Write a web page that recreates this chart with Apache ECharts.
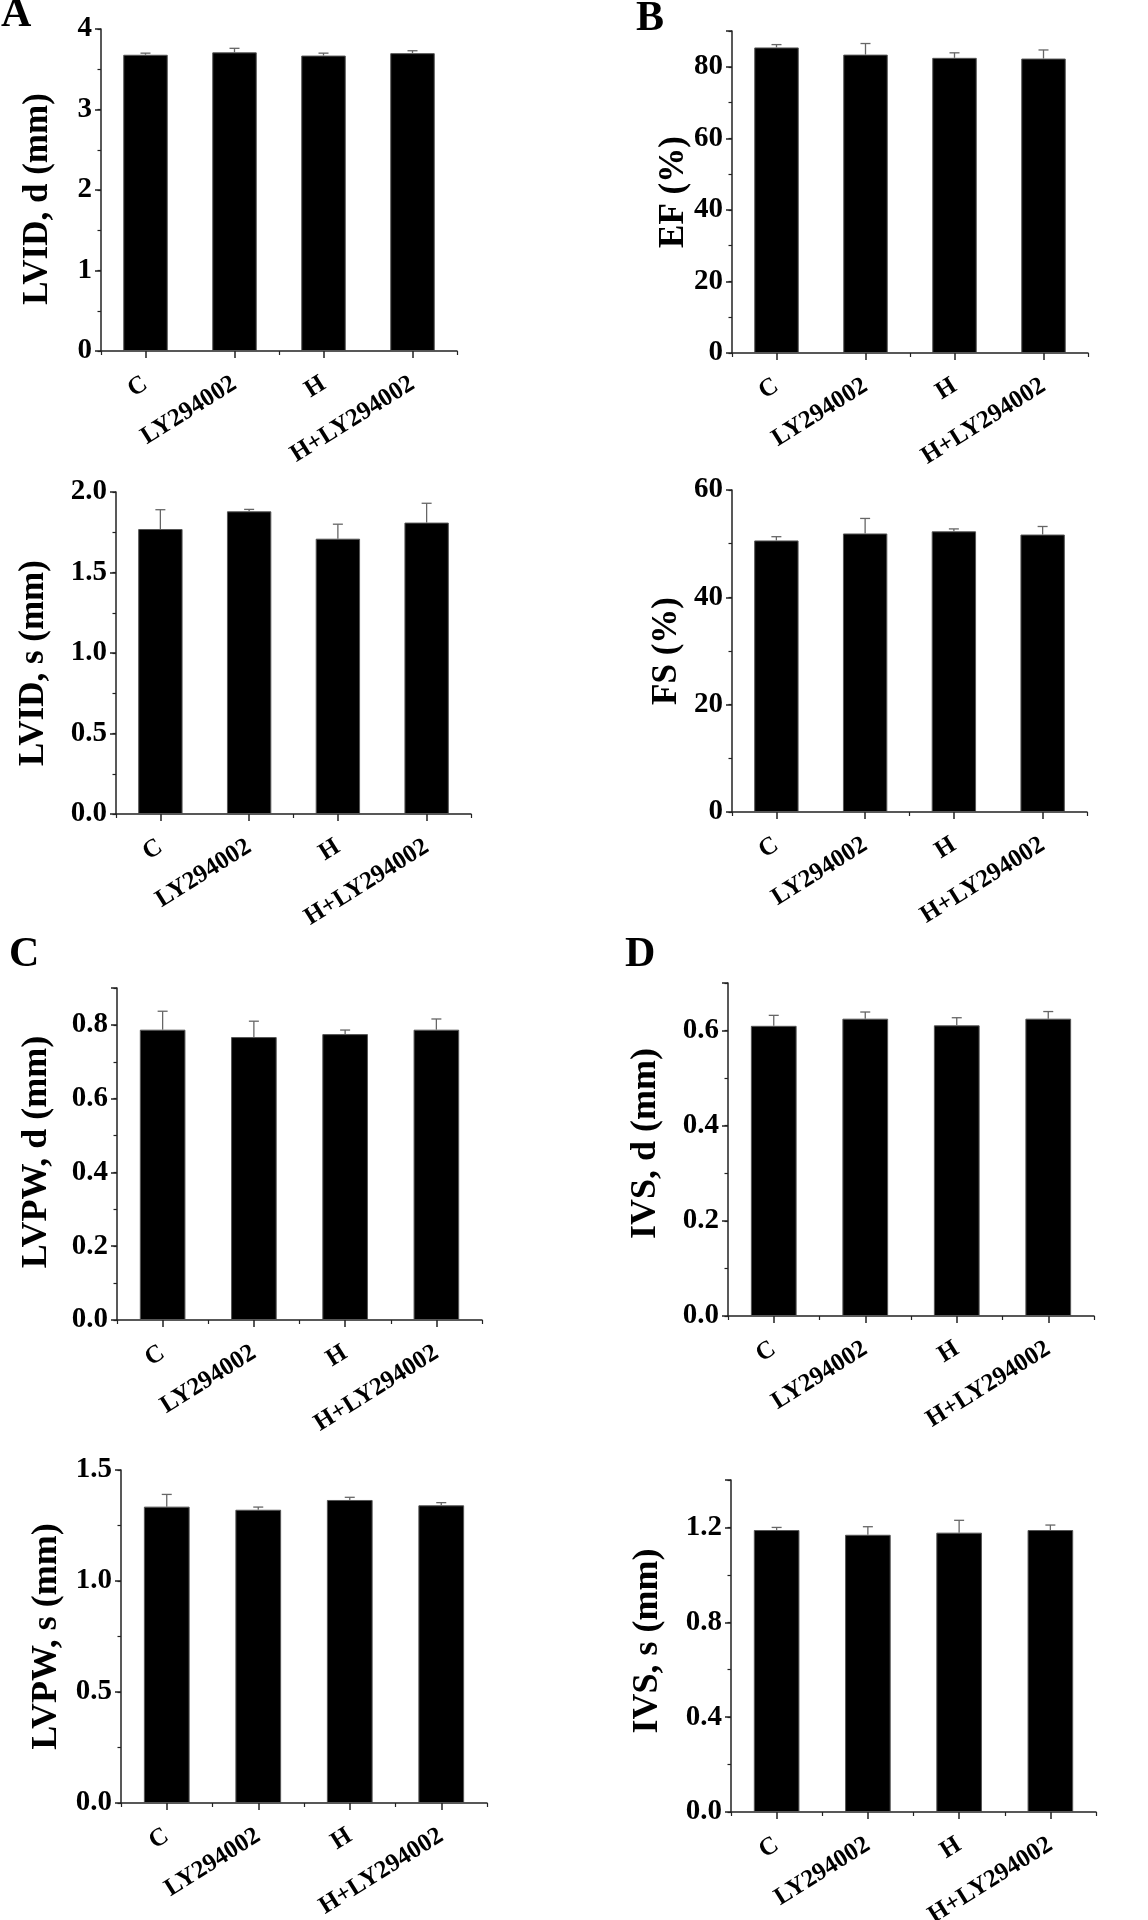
<!DOCTYPE html>
<html>
<head>
<meta charset="utf-8">
<script src="https://cdn.jsdelivr.net/npm/echarts@6/dist/echarts.min.js"></script>
<style>
  html, body { margin: 0; padding: 0; background: #fff; }
  #chart { width: 1148px; height: 1920px; }
</style>
</head>
<body>
<div id="chart"></div>
<script>
// ---------------- data ----------------
const categories = ['C', 'LY294002', 'H', 'H+LY294002'];

const lvidD = [3.68, 3.71, 3.67, 3.70];
const lvidDErr = [0.02, 0.05, 0.03, 0.03];
const lvidDTicks = { max: 4, step: 1, labelMax: 4, decimals: 0 };

const ef = [85.4, 83.4, 82.5, 82.3];
const efErr = [0.8, 3.1, 1.4, 2.4];
const efTicks = { max: 90, step: 20, labelMax: 80, decimals: 0 };

const lvidS = [1.77, 1.88, 1.71, 1.81];
const lvidSErr = [0.12, 0.012, 0.09, 0.12];
const lvidSTicks = { max: 2.0, step: 0.5, labelMax: 2.0, decimals: 1 };

const fs = [50.6, 51.9, 52.3, 51.7];
const fsErr = [0.7, 2.8, 0.45, 1.5];
const fsTicks = { max: 60, step: 20, labelMax: 60, decimals: 0 };

const lvpwD = [0.787, 0.767, 0.775, 0.787];
const lvpwDErr = [0.05, 0.043, 0.011, 0.029];
const lvpwDTicks = { max: 0.9, step: 0.2, labelMax: 0.8, decimals: 1 };

const ivsD = [0.610, 0.625, 0.611, 0.625];
const ivsDErr = [0.022, 0.014, 0.016, 0.015];
const ivsDTicks = { max: 0.7, step: 0.2, labelMax: 0.6, decimals: 1 };

const lvpwS = [1.335, 1.321, 1.365, 1.341];
const lvpwSErr = [0.055, 0.012, 0.012, 0.012];
const lvpwSTicks = { max: 1.5, step: 0.5, labelMax: 1.5, decimals: 1 };

const ivsS = [1.189, 1.169, 1.178, 1.189];
const ivsSErr = [0.011, 0.034, 0.052, 0.021];
const ivsSTicks = { max: 1.4, step: 0.4, labelMax: 1.2, decimals: 1 };

const panelLetters = ['A', 'B', 'C', 'D'];

// ---------------- layout / style ----------------
const FONT = "'Liberation Serif', 'Times New Roman', serif";
const AXIS_COLOR = '#222';

const panels = [
  { title: 'LVID, d (mm)', values: lvidD, errs: lvidDErr, ticks: lvidDTicks, titleSize: 35,
    grid: { left: 101, top: 29, width: 356, height: 322 }, nameGap: 46, nameShift: 9 },
  { title: 'EF (%)', values: ef, errs: efErr, ticks: efTicks, titleSize: 35,
    grid: { left: 732, top: 31, width: 356, height: 322 }, nameGap: 41, nameShift: 0 },
  { title: 'LVID, s (mm)', values: lvidS, errs: lvidSErr, ticks: lvidSTicks, titleSize: 35,
    grid: { left: 116, top: 492, width: 355, height: 322 }, nameGap: 65, nameShift: 10 },
  { title: 'FS (%)', values: fs, errs: fsErr, ticks: fsTicks, titleSize: 35,
    grid: { left: 732, top: 490, width: 355, height: 322 }, nameGap: 48, nameShift: 0 },
  { title: 'LVPW, d (mm)', values: lvpwD, errs: lvpwDErr, ticks: lvpwDTicks, titleSize: 36,
    grid: { left: 117, top: 988, width: 365, height: 332 }, nameGap: 62, nameShift: -2 },
  { title: 'IVS, d (mm)', values: ivsD, errs: ivsDErr, ticks: ivsDTicks, titleSize: 36,
    grid: { left: 728, top: 983, width: 366, height: 333 }, nameGap: 64, nameShift: -6 },
  { title: 'LVPW, s (mm)', values: lvpwS, errs: lvpwSErr, ticks: lvpwSTicks, titleSize: 36,
    grid: { left: 121, top: 1470, width: 366, height: 333 }, nameGap: 56, nameShift: 0 },
  { title: 'IVS, s (mm)', values: ivsS, errs: ivsSErr, ticks: ivsSTicks, titleSize: 36,
    grid: { left: 731, top: 1480, width: 365, height: 332 }, nameGap: 65, nameShift: -5 }
];

const letterPos = [
  { x: 1, y: 15 }, { x: 636, y: 19 }, { x: 9, y: 955 }, { x: 625, y: 955 }
];

const grids = [], xAxes = [], yAxes = [], series = [];

panels.forEach((p, i) => {
  grids.push(Object.assign({ outerBoundsMode: 'none', containLabel: false }, p.grid));
  const t = p.ticks;
  xAxes.push({
    type: 'category', gridIndex: i, data: categories,
    axisLine: { show: true, lineStyle: { color: AXIS_COLOR, width: 1.5 } },
    axisTick: { show: true, alignWithLabel: true, length: 7, lineStyle: { color: AXIS_COLOR, width: 1.5 } },
    axisLabel: { show: true, interval: 0, rotate: 32, margin: 31,
      fontFamily: FONT, fontWeight: 'bold', fontSize: 25, color: '#000' },
    splitLine: { show: false }
  });
  xAxes.push({
    type: 'category', gridIndex: i, data: categories, position: 'bottom',
    axisLine: { show: false },
    axisTick: { show: true, alignWithLabel: false, length: 4, lineStyle: { color: AXIS_COLOR, width: 1.2 } },
    axisLabel: { show: false }, splitLine: { show: false }
  });
  yAxes.push({
    type: 'value', gridIndex: i, position: 'left', min: 0, max: t.max, interval: t.step,
    axisLine: { show: true, lineStyle: { color: AXIS_COLOR, width: 1.5 } },
    axisTick: { show: true, length: 6, lineStyle: { color: AXIS_COLOR, width: 1.5 } },
    axisLabel: { show: true, margin: 9, fontFamily: FONT, fontWeight: 'bold', fontSize: 29, color: '#000',
      formatter: v => (v > t.labelMax + 1e-9 ? '' : Number(v).toFixed(t.decimals)) },
    splitLine: { show: false },
    name: p.title, nameLocation: 'middle', nameGap: p.nameGap, nameRotate: 90, nameMoveOverlap: false,
    nameTextStyle: { fontFamily: FONT, fontWeight: 'bold', fontSize: p.titleSize, color: '#000',
      padding: p.nameShift >= 0 ? [0, 2 * p.nameShift, 0, 0] : [0, 0, 0, -2 * p.nameShift] }
  });
  yAxes.push({
    type: 'value', gridIndex: i, position: 'left', min: 0, max: t.max, interval: t.step / 2,
    axisLine: { show: false },
    axisTick: { show: true, length: 3.5, lineStyle: { color: AXIS_COLOR, width: 1.2 } },
    axisLabel: { show: false }, splitLine: { show: false }
  });
  series.push({
    type: 'bar', xAxisIndex: 2 * i, yAxisIndex: 2 * i, data: p.values, barWidth: '50%',
    itemStyle: { color: '#000', borderColor: '#555', borderWidth: 1 }, silent: true
  });
  series.push({
    type: 'custom', xAxisIndex: 2 * i, yAxisIndex: 2 * i, z: 5, silent: true,
    data: p.values.map((v, k) => [k, v, p.errs[k]]),
    encode: { x: 0, y: 1 },
    renderItem: (params, api) => {
      const x = api.value(0), v = api.value(1), e = api.value(2);
      const p0 = api.coord([x, v]);
      const p1 = api.coord([x, v + e]);
      const hw = 5;
      const st = { stroke: '#666', lineWidth: 1.3 };
      return { type: 'group', children: [
        { type: 'line', shape: { x1: p0[0], y1: p0[1], x2: p1[0], y2: p1[1] }, style: st },
        { type: 'line', shape: { x1: p1[0] - hw, y1: p1[1], x2: p1[0] + hw, y2: p1[1] }, style: st }
      ]};
    }
  });
});

const graphics = panelLetters.map((L, i) => ({
  type: 'text', left: letterPos[i].x, top: letterPos[i].y - 21,
  style: { text: L, font: "bold 42px " + FONT, fill: '#000' }
}));

const chart = echarts.init(document.getElementById('chart'), null, { renderer: 'canvas' });
chart.setOption({
  animation: false,
  backgroundColor: '#fff',
  grid: grids, xAxis: xAxes, yAxis: yAxes, series: series,
  graphic: graphics
});
</script>
</body>
</html>
